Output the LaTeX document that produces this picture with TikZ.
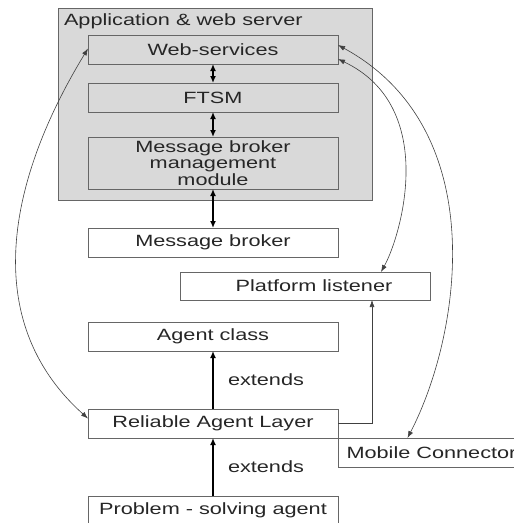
\documentclass[tikz,border=0pt]{standalone}
\usepackage{fontspec}
\setmainfont[FakeStretch=1.33]{Liberation Sans}
\usetikzlibrary{arrows.meta}

\begin{document}
\begin{tikzpicture}[x=1pt, y=-1pt,
  every node/.style={inner sep=0pt, outer sep=0pt, text=black!85, font=\fontsize{16.3}{16.5}\selectfont},
  grybox/.style={draw=black!60, fill=black!15, minimum width=250pt, minimum height=29pt},
  whtbox/.style={draw=black!60, fill=white, minimum width=250pt, minimum height=29pt},
  thk/.style={black, line width=1.3pt, >={Latex[length=7pt,width=6pt]}},
  thn/.style={black!75, line width=0.6pt, >={Latex[length=7pt,width=5pt]}}]
\clip (0,0) rectangle (514,523);
\useasboundingbox (0,0) rectangle (514,523);

% application server
\node[draw=black!60, fill=black!15, minimum width=314pt, minimum height=192pt] (srv) at (215,104) {};
\node[anchor=base west] (srvlbl) at (64,25) {Application \& web server};
\node[grybox] (ws) at (213,49.5) {Web-services};
\node[grybox] (ftsm) at (213,97.5) {FTSM};
\node[grybox, minimum height=52pt, align=center] (mbmm) at (213,163) {Message broker\\management\\module};

% lower boxes
\node[whtbox] (broker) at (213,242.5) {Message broker};
\node[whtbox, minimum height=28pt] (listener) at (305,286) {\hspace{18pt}Platform listener};
\node[whtbox] (agentcls) at (213,336.5) {Agent class};
\node[whtbox] (ral) at (213,423.5) {Reliable Agent Layer};
\node[whtbox, minimum width=185pt] (mobile) at (430.5,452.5) {\hspace{2pt}Mobile Connector};
\node[whtbox] (psa) at (213,510.5) {Problem - solving agent};

\draw[thk, <->] (ws) -- (ftsm);
\draw[thk, <->] (ftsm) -- (mbmm);
\draw[thk, <->] (mbmm) -- (broker);
\draw[thk, ->] (ral) -- node[right=15pt] (ext1) {extends} (agentcls);
\draw[thk, ->] (psa) -- node[right=15pt] (ext2) {extends} (ral);

\draw[thn, ->] (ral.east) -| ([xshift=67pt]listener.south);
\draw[thn, <->] ([yshift=1pt]ws.west) .. controls (9,178) and (-22,320) .. ([yshift=5pt]ral.west);
\draw[thn, <->] ([yshift=5pt]ws.south east) .. controls (439,107) and (401,236) .. ([xshift=76pt]listener.north);
\draw[thn, <->] ([yshift=-10pt]ws.north east) .. controls (494,130) and (460,337) .. ([xshift=-23pt]mobile.north);
\end{tikzpicture}
\end{document}
